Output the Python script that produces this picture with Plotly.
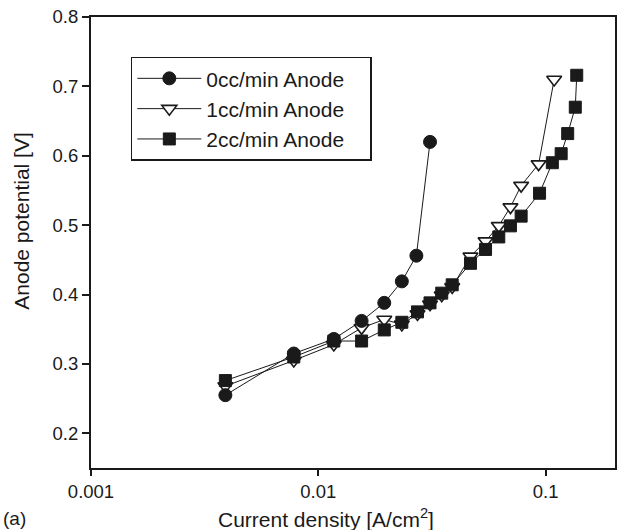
import plotly.graph_objects as go

# Data
x0 = [0.0039, 0.0078, 0.0117, 0.0155, 0.0195, 0.0233, 0.027, 0.031]
y0 = [0.255, 0.315, 0.336, 0.362, 0.388, 0.419, 0.456, 0.620]

x1 = [0.0039, 0.0078, 0.0117, 0.0155, 0.0195, 0.0233, 0.0273, 0.031, 0.0349,
      0.0388, 0.0467, 0.0544, 0.0622, 0.070, 0.078, 0.0931, 0.109]
y1 = [0.268, 0.305, 0.328, 0.352, 0.364, 0.357, 0.372, 0.386, 0.399,
      0.411, 0.455, 0.477, 0.499, 0.526, 0.557, 0.588, 0.710]

x2 = [0.0039, 0.0078, 0.0117, 0.0155, 0.0195, 0.0233, 0.0273, 0.031, 0.0349,
      0.0388, 0.0467, 0.0544, 0.0622, 0.070, 0.078, 0.094, 0.107, 0.117,
      0.125, 0.135, 0.137]
y2 = [0.276, 0.310, 0.333, 0.333, 0.349, 0.360, 0.375, 0.388, 0.402,
      0.414, 0.445, 0.465, 0.483, 0.499, 0.513, 0.546, 0.590, 0.603,
      0.632, 0.670, 0.716]

names = ["0cc/min Anode", "1cc/min Anode", "2cc/min Anode"]
x_ticks = [0.001, 0.01, 0.1]
x_ticklabels = ["0.001", "0.01", "0.1"]
y_ticks = [0.2, 0.3, 0.4, 0.5, 0.6, 0.7, 0.8]

FONT = "Liberation Sans, Arial, Helvetica, sans-serif"
INK = "#1a1a1a"
PAD = "\u2002\u2002\u200b"

fig = go.Figure()
fig.add_trace(go.Scatter(
    x=x1, y=y1, name=names[1] + PAD, mode="lines+markers", legendrank=2,
    line=dict(color=INK, width=1),
    marker=dict(symbol="triangle-down", size=13, color="white",
                line=dict(color=INK, width=1.6)),
))
fig.add_trace(go.Scatter(
    x=x2, y=y2, name=names[2] + PAD, mode="lines+markers", legendrank=3,
    line=dict(color=INK, width=1),
    marker=dict(symbol="square", size=12, color=INK,
                line=dict(color=INK, width=1)),
))
fig.add_trace(go.Scatter(
    x=x0, y=y0, name=names[0] + PAD, mode="lines+markers", legendrank=1,
    line=dict(color=INK, width=1),
    marker=dict(symbol="circle", size=13, color=INK,
                line=dict(color=INK, width=1)),
))

fig.update_layout(
    width=618, height=530,
    margin=dict(l=91, r=1, t=17, b=62),
    paper_bgcolor="white", plot_bgcolor="white",
    font=dict(family=FONT, size=19, color=INK),
    showlegend=True,
    legend=dict(
        x=0.076, y=0.912, xanchor="left", yanchor="top",
        bordercolor=INK, borderwidth=1.5, bgcolor="white",
        itemwidth=64, font=dict(size=21, family=FONT, color=INK),
        traceorder="normal",
    ),
    xaxis=dict(
        type="log", range=[-3, -0.695],
        tickvals=x_ticks, ticktext=x_ticklabels,
        ticks="outside", ticklen=6, tickwidth=2, tickcolor=INK,
        showline=True, linecolor=INK, linewidth=2, mirror=True,
        showgrid=False, zeroline=False,
        tickfont=dict(size=18.5, family=FONT, color=INK),
    ),
    yaxis=dict(
        range=[0.15, 0.8], tickvals=y_ticks,
        tickformat=".1f",
        ticks="outside", ticklen=7, tickwidth=2, tickcolor=INK,
        showline=True, linecolor=INK, linewidth=2, mirror=True,
        showgrid=False, zeroline=False,
        tickfont=dict(size=18.5, family=FONT, color=INK),
    ),
    annotations=[
        dict(text="Current density [A/cm<sup>2</sup>]", xref="paper", yref="paper",
             x=0.449, y=-0.111, xanchor="center", yanchor="middle",
             showarrow=False, font=dict(size=21, family=FONT, color=INK)),
        dict(text="Anode potential [V]", xref="paper", yref="paper",
             x=-0.132, y=0.548, xanchor="center", yanchor="middle", textangle=-90,
             showarrow=False, font=dict(size=21, family=FONT, color=INK)),
        dict(text="(a)", xref="paper", yref="paper",
             x=-0.171, y=-0.111, xanchor="left", yanchor="middle",
             showarrow=False, font=dict(size=19, family=FONT, color=INK)),
    ],
)

fig.write_html("out.html", config={"displayModeBar": False},
               post_script="document.body.style.margin='0';")
